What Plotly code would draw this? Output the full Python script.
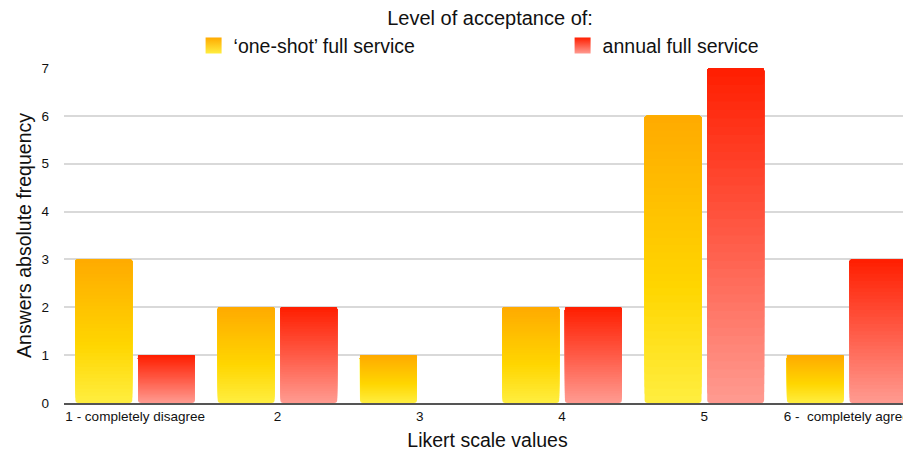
import plotly.graph_objects as go

categories = ["1 - completely disagree", "2", "3", "4", "5", "6 -  completely agree"]
one_shot = [3, 2, 1, 2, 6, 1]
annual = [1, 2, 0, 2, 7, 3]
series_names = ["‘one-shot’ full service", "annual full service"]

# gradient stops (position from bottom 0 -> top 1, colour)
orange_stops = [(0.0, (255, 238, 64)), (0.4, (255, 214, 0)), (1.0, (255, 170, 0))]
red_stops = [(0.0, (255, 155, 145)), (0.5, (255, 90, 70)), (1.0, (255, 30, 0))]

N_SEG = 40


def grad(stops, t):
    for (p0, c0), (p1, c1) in zip(stops[:-1], stops[1:]):
        if t <= p1:
            f = (t - p0) / (p1 - p0)
            c = [round(a + (b - a) * f) for a, b in zip(c0, c1)]
            return "rgb(%d,%d,%d)" % tuple(c)
    return "rgb(%d,%d,%d)" % stops[-1][1]


fig = go.Figure()

# each bar is painted as layered slices (bottom to top) to imitate a vertical gradient
for values, stops, offset in [(one_shot, orange_stops, -0.42), (annual, red_stops, 0.02)]:
    for k in range(N_SEG):
        t = (k + 0.5) / N_SEG
        fig.add_trace(go.Bar(
            x=categories,
            y=[v * (N_SEG - k) / N_SEG for v in values],
            base=[v * k / N_SEG for v in values],
            offset=offset,
            width=0.4,
            marker=dict(color=grad(stops, t), line=dict(width=0), cornerradius=3),
            showlegend=False,
            hoverinfo="skip",
        ))

# legend entries
for name, stops in [(series_names[0], orange_stops), (series_names[1], red_stops)]:
    fig.add_trace(go.Scatter(
        x=[None], y=[None], mode="markers", name=name,
        marker=dict(symbol="square", size=16, color=grad(stops, 1.0),
                    gradient=dict(type="vertical", color=grad(stops, 0.0)),
                    line=dict(width=0)),
    ))

font = "Liberation Sans, Arial, Helvetica, sans-serif"

fig.update_layout(
    width=903, height=446,
    margin=dict(l=56, r=0, t=60, b=51, autoexpand=False),
    paper_bgcolor="white", plot_bgcolor="white",
    barmode="overlay",
    font=dict(family=font, color="#111"),
    title=dict(text="Level of acceptance of:", x=0.503, xref="paper", xanchor="center",
               y=1 - 10 / 446, yref="container", yanchor="middle",
               font=dict(size=20, color="#111")),
    legend=dict(orientation="h", x=0.153, xanchor="left", y=1.066, yanchor="middle",
                entrywidth=324, entrywidthmode="pixels",
                font=dict(size=19.5, color="#111"), bgcolor="rgba(0,0,0,0)"),
    xaxis=dict(type="category", range=[-0.5, 5.452], showline=True, linecolor="#555",
               linewidth=1.5, ticks="", showgrid=False, zeroline=False,
               tickfont=dict(size=13.5, color="#111"),
               title=dict(text="Likert scale values", font=dict(size=19.5, color="#111"), standoff=10)),
    yaxis=dict(range=[0, 7], dtick=1, showgrid=True, gridcolor="#d9d9d9", gridwidth=1.5,
               zeroline=False, showline=False, ticks="", ticklabelstandoff=14,
               tickfont=dict(size=13.5, color="#111"),
               title=dict(text="Answers absolute frequency", font=dict(size=19.5, color="#111"), standoff=4)),
)

fig.write_html("out.html")
